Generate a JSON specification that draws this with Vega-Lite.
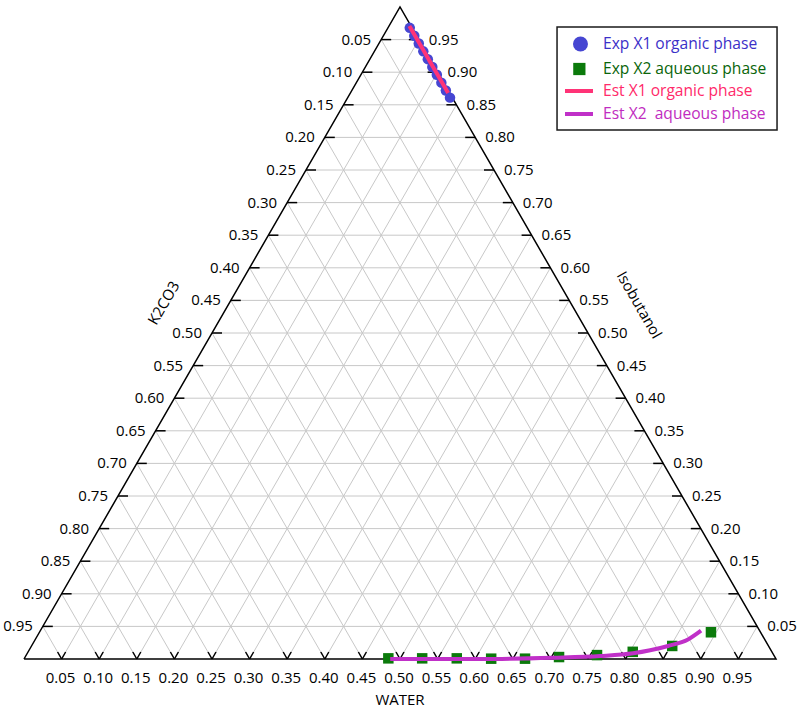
{
  "$schema": "https://vega.github.io/schema/vega-lite/v6.json",
  "width": 752,
  "height": 652,
  "autosize": {"type": "none"},
  "padding": {"left": 24, "top": 7, "right": 24, "bottom": 49},
  "background": "white",
  "config": {"view": {"stroke": null}, "font": "Open Sans"},
  "datasets": {
    "ticks": [
      {"t": 0.05}, {"t": 0.10}, {"t": 0.15}, {"t": 0.20}, {"t": 0.25}, {"t": 0.30}, {"t": 0.35}, {"t": 0.40}, {"t": 0.45}, {"t": 0.50},
      {"t": 0.55}, {"t": 0.60}, {"t": 0.65}, {"t": 0.70}, {"t": 0.75}, {"t": 0.80}, {"t": 0.85}, {"t": 0.90}, {"t": 0.95}
    ],
    "verts": [
      {"W": 0, "I": 0, "o": 0},
      {"W": 1, "I": 0, "o": 1},
      {"W": 0, "I": 1, "o": 2},
      {"W": 0, "I": 0, "o": 3}
    ],
    "titles": [
      {"name": "K2CO3"},
      {"name": "Isobutanol"},
      {"name": "WATER"}
    ],
    "legend": [
      {"series": "Exp X1 organic phase"},
      {"series": "Exp X2 aqueous phase"},
      {"series": "Est X1 organic phase"},
      {"series": "Est X2  aqueous phase"}
    ],
    "exp": [
      {"series": "Exp X1 organic phase", "W": 0.029, "I": 0.968},
      {"series": "Exp X1 organic phase", "W": 0.041, "I": 0.956},
      {"series": "Exp X1 organic phase", "W": 0.053, "I": 0.944},
      {"series": "Exp X1 organic phase", "W": 0.065, "I": 0.932},
      {"series": "Exp X1 organic phase", "W": 0.077, "I": 0.920},
      {"series": "Exp X1 organic phase", "W": 0.089, "I": 0.908},
      {"series": "Exp X1 organic phase", "W": 0.101, "I": 0.896},
      {"series": "Exp X1 organic phase", "W": 0.113, "I": 0.884},
      {"series": "Exp X1 organic phase", "W": 0.125, "I": 0.872},
      {"series": "Exp X1 organic phase", "W": 0.136, "I": 0.861},
      {"series": "Exp X2 aqueous phase", "W": 0.484, "I": 0.001},
      {"series": "Exp X2 aqueous phase", "W": 0.529, "I": 0.001},
      {"series": "Exp X2 aqueous phase", "W": 0.575, "I": 0.001},
      {"series": "Exp X2 aqueous phase", "W": 0.621, "I": 0.0005},
      {"series": "Exp X2 aqueous phase", "W": 0.666, "I": 0.0005},
      {"series": "Exp X2 aqueous phase", "W": 0.710, "I": 0.003},
      {"series": "Exp X2 aqueous phase", "W": 0.759, "I": 0.006},
      {"series": "Exp X2 aqueous phase", "W": 0.804, "I": 0.011},
      {"series": "Exp X2 aqueous phase", "W": 0.852, "I": 0.020},
      {"series": "Exp X2 aqueous phase", "W": 0.893, "I": 0.041}
    ],
    "est": [
      {"series": "Est X1 organic phase", "W": 0.027, "I": 0.971},
      {"series": "Est X1 organic phase", "W": 0.130, "I": 0.868},
      {"series": "Est X2  aqueous phase", "W": 0.487, "I": 0.0},
      {"series": "Est X2  aqueous phase", "W": 0.606, "I": 0.0},
      {"series": "Est X2  aqueous phase", "W": 0.7025, "I": 0.002},
      {"series": "Est X2  aqueous phase", "W": 0.764, "I": 0.0046},
      {"series": "Est X2  aqueous phase", "W": 0.8055, "I": 0.0087},
      {"series": "Est X2  aqueous phase", "W": 0.826, "I": 0.0133},
      {"series": "Est X2  aqueous phase", "W": 0.8464, "I": 0.020},
      {"series": "Est X2  aqueous phase", "W": 0.868, "I": 0.030},
      {"series": "Est X2  aqueous phase", "W": 0.8786, "I": 0.0434}
    ]
  },
  "layer": [
    {
      "data": {"name": "ticks"},
      "transform": [
        {"calculate": "datum.t / 2", "as": "xa"},
        {"calculate": "1 - datum.t / 2", "as": "xb"}
      ],
      "mark": {"type": "rule", "color": "#c8c8c8", "strokeWidth": 1},
      "encoding": {
        "x": {"field": "xa", "type": "quantitative", "scale": {"domain": [0, 1], "nice": false, "zero": false}, "axis": null},
        "x2": {"field": "xb"},
        "y": {"field": "t", "type": "quantitative", "scale": {"domain": [0, 1], "nice": false, "zero": false}, "axis": null},
        "y2": {"field": "t"}
      }
    },
    {
      "data": {"name": "ticks"},
      "transform": [
        {"calculate": "(1 + datum.t) / 2", "as": "xb"},
        {"calculate": "1 - datum.t", "as": "yb"},
        {"calculate": "0", "as": "y0"}
      ],
      "mark": {"type": "rule", "color": "#c8c8c8", "strokeWidth": 1},
      "encoding": {
        "x": {"field": "t", "type": "quantitative", "axis": null},
        "x2": {"field": "xb"},
        "y": {"field": "y0", "type": "quantitative", "axis": null},
        "y2": {"field": "yb"}
      }
    },
    {
      "data": {"name": "ticks"},
      "transform": [
        {"calculate": "1 - datum.t", "as": "xa"},
        {"calculate": "(1 - datum.t) / 2", "as": "xb"},
        {"calculate": "1 - datum.t", "as": "yb"},
        {"calculate": "0", "as": "y0"}
      ],
      "mark": {"type": "rule", "color": "#c8c8c8", "strokeWidth": 1},
      "encoding": {
        "x": {"field": "xa", "type": "quantitative", "axis": null},
        "x2": {"field": "xb"},
        "y": {"field": "y0", "type": "quantitative", "axis": null},
        "y2": {"field": "yb"}
      }
    },
    {
      "data": {"name": "verts"},
      "transform": [{"calculate": "datum.W + datum.I / 2", "as": "X"}],
      "mark": {"type": "line", "color": "#000000", "strokeWidth": 1.5, "strokeJoin": "miter"},
      "encoding": {
        "x": {"field": "X", "type": "quantitative", "axis": null},
        "y": {"field": "I", "type": "quantitative", "axis": null},
        "order": {"field": "o", "type": "quantitative"}
      }
    },
    {
      "data": {"name": "ticks"},
      "transform": [{"calculate": "datum.t / 2", "as": "xa"}],
      "mark": {"type": "rule", "color": "#000000", "strokeWidth": 1.5, "x2Offset": 10},
      "encoding": {
        "x": {"field": "xa", "type": "quantitative", "axis": null},
        "x2": {"field": "xa"},
        "y": {"field": "t", "type": "quantitative", "axis": null},
        "y2": {"field": "t"}
      }
    },
    {
      "data": {"name": "ticks"},
      "transform": [{"calculate": "1 - datum.t / 2", "as": "xa"}],
      "mark": {"type": "rule", "color": "#000000", "strokeWidth": 1.5, "x2Offset": -10},
      "encoding": {
        "x": {"field": "xa", "type": "quantitative", "axis": null},
        "x2": {"field": "xa"},
        "y": {"field": "t", "type": "quantitative", "axis": null},
        "y2": {"field": "t"}
      }
    },
    {
      "data": {"name": "ticks"},
      "transform": [{"calculate": "0", "as": "y0"}],
      "mark": {"type": "rule", "color": "#000000", "strokeWidth": 1.5, "x2Offset": 4, "y2Offset": -7},
      "encoding": {
        "x": {"field": "t", "type": "quantitative", "axis": null},
        "x2": {"field": "t"},
        "y": {"field": "y0", "type": "quantitative", "axis": null},
        "y2": {"field": "y0"}
      }
    },
    {
      "data": {"name": "ticks"},
      "transform": [{"calculate": "0", "as": "y0"}],
      "mark": {"type": "rule", "color": "#000000", "strokeWidth": 1.5, "x2Offset": -4, "y2Offset": -7},
      "encoding": {
        "x": {"field": "t", "type": "quantitative", "axis": null},
        "x2": {"field": "t"},
        "y": {"field": "y0", "type": "quantitative", "axis": null},
        "y2": {"field": "y0"}
      }
    },
    {
      "data": {"name": "ticks"},
      "transform": [
        {"calculate": "datum.t / 2", "as": "xa"},
        {"calculate": "format(1 - datum.t, '.2f')", "as": "lab"}
      ],
      "mark": {"type": "text", "align": "right", "baseline": "middle", "dx": -10, "fontSize": 15, "font": "Open Sans", "color": "#000000"},
      "encoding": {
        "x": {"field": "xa", "type": "quantitative", "axis": null},
        "y": {"field": "t", "type": "quantitative", "axis": null},
        "text": {"field": "lab"}
      }
    },
    {
      "data": {"name": "ticks"},
      "transform": [
        {"calculate": "1 - datum.t / 2", "as": "xa"},
        {"calculate": "format(datum.t, '.2f')", "as": "lab"}
      ],
      "mark": {"type": "text", "align": "left", "baseline": "middle", "dx": 10, "fontSize": 15, "font": "Open Sans", "color": "#000000"},
      "encoding": {
        "x": {"field": "xa", "type": "quantitative", "axis": null},
        "y": {"field": "t", "type": "quantitative", "axis": null},
        "text": {"field": "lab"}
      }
    },
    {
      "data": {"name": "ticks"},
      "transform": [
        {"calculate": "format(datum.t, '.2f')", "as": "lab"},
        {"calculate": "0", "as": "y0"}
      ],
      "mark": {"type": "text", "align": "center", "baseline": "middle", "dy": 19, "dx": -1, "fontSize": 15, "font": "Open Sans", "color": "#000000"},
      "encoding": {
        "x": {"field": "t", "type": "quantitative", "axis": null},
        "y": {"field": "y0", "type": "quantitative", "axis": null},
        "text": {"field": "lab"}
      }
    },
    {
      "data": {"name": "titles"},
      "transform": [{"filter": "datum.name == 'K2CO3'"}],
      "mark": {"type": "text", "align": "center", "baseline": "middle", "angle": 300, "fontSize": 15, "font": "Open Sans", "color": "#000000"},
      "encoding": {
        "x": {"datum": 0.186, "type": "quantitative", "axis": null},
        "y": {"datum": 0.546, "type": "quantitative", "axis": null},
        "text": {"field": "name"}
      }
    },
    {
      "data": {"name": "titles"},
      "transform": [{"filter": "datum.name == 'Isobutanol'"}],
      "mark": {"type": "text", "align": "center", "baseline": "middle", "angle": 60, "fontSize": 15, "font": "Open Sans", "color": "#000000"},
      "encoding": {
        "x": {"datum": 0.818, "type": "quantitative", "axis": null},
        "y": {"datum": 0.543, "type": "quantitative", "axis": null},
        "text": {"field": "name"}
      }
    },
    {
      "data": {"name": "titles"},
      "transform": [{"filter": "datum.name == 'WATER'"}],
      "mark": {"type": "text", "align": "center", "baseline": "middle", "fontSize": 15, "font": "Open Sans", "color": "#000000"},
      "encoding": {
        "x": {"datum": 0.5, "type": "quantitative", "axis": null},
        "y": {"datum": -0.063, "type": "quantitative", "axis": null},
        "text": {"field": "name"}
      }
    },
    {
      "data": {"name": "exp"},
      "transform": [{"calculate": "datum.W + datum.I / 2", "as": "X"}],
      "mark": {"type": "point", "filled": true, "size": 110, "opacity": 1},
      "encoding": {
        "x": {"field": "X", "type": "quantitative", "axis": null},
        "y": {"field": "I", "type": "quantitative", "axis": null},
        "color": {
          "field": "series", "type": "nominal",
          "scale": {
            "domain": ["Exp X1 organic phase", "Exp X2 aqueous phase", "Est X1 organic phase", "Est X2  aqueous phase"],
            "range": ["#4646d2", "#0b7a0b", "#ff3377", "#c030c8"]
          },
          "legend": null
        },
        "shape": {
          "field": "series", "type": "nominal",
          "scale": {
            "domain": ["Exp X1 organic phase", "Exp X2 aqueous phase"],
            "range": ["circle", "square"]
          },
          "legend": null
        }
      }
    },
    {
      "data": {"name": "est"},
      "transform": [{"calculate": "datum.W + datum.I / 2", "as": "X"}],
      "mark": {"type": "line", "strokeWidth": 4, "interpolate": "monotone"},
      "encoding": {
        "x": {"field": "X", "type": "quantitative", "axis": null},
        "y": {"field": "I", "type": "quantitative", "axis": null},
        "color": {"field": "series", "type": "nominal", "legend": null}
      }
    },
    {
      "data": {"name": "legend"},
      "transform": [{"filter": "datum.series == 'Exp X1 organic phase'"}],
      "mark": {"type": "point", "shape": "M-1,-0.468H1V0.468H-1Z", "size": 48400, "filled": false, "fill": "#ffffff", "fillOpacity": 1, "stroke": "#1a1a1a", "strokeWidth": 1.5, "opacity": 1},
      "encoding": {
        "x": {"datum": 0.8551, "type": "quantitative", "axis": null},
        "y": {"datum": 0.8903, "type": "quantitative", "axis": null}
      }
    },
    {
      "data": {"name": "legend"},
      "transform": [{"filter": "datum.series == 'Exp X1 organic phase'"}],
      "mark": {"type": "point", "shape": "circle", "size": 225, "filled": true, "opacity": 1},
      "encoding": {
        "x": {"datum": 0.740, "type": "quantitative", "axis": null},
        "y": {"datum": 0.9433, "type": "quantitative", "axis": null},
        "color": {"field": "series", "type": "nominal", "legend": null}
      }
    },
    {
      "data": {"name": "legend"},
      "transform": [{"filter": "datum.series == 'Exp X2 aqueous phase'"}],
      "mark": {"type": "point", "shape": "square", "size": 150, "filled": true, "opacity": 1},
      "encoding": {
        "x": {"datum": 0.7385, "type": "quantitative", "axis": null},
        "y": {"datum": 0.9049, "type": "quantitative", "axis": null},
        "color": {"field": "series", "type": "nominal", "legend": null}
      }
    },
    {
      "data": {"name": "legend"},
      "transform": [{"filter": "datum.series == 'Est X1 organic phase'"}],
      "mark": {"type": "point", "shape": "stroke", "size": 784, "filled": false, "strokeWidth": 4, "opacity": 1},
      "encoding": {
        "x": {"datum": 0.738, "type": "quantitative", "axis": null},
        "y": {"datum": 0.8712, "type": "quantitative", "axis": null},
        "color": {"field": "series", "type": "nominal", "legend": null}
      }
    },
    {
      "data": {"name": "legend"},
      "transform": [{"filter": "datum.series == 'Est X2  aqueous phase'"}],
      "mark": {"type": "point", "shape": "stroke", "size": 784, "filled": false, "strokeWidth": 4, "opacity": 1},
      "encoding": {
        "x": {"datum": 0.738, "type": "quantitative", "axis": null},
        "y": {"datum": 0.8359, "type": "quantitative", "axis": null},
        "color": {"field": "series", "type": "nominal", "legend": null}
      }
    },
    {
      "data": {"name": "legend"},
      "transform": [{"filter": "datum.series == 'Exp X1 organic phase'"}],
      "mark": {"type": "text", "align": "left", "baseline": "middle", "fontSize": 15.6, "font": "Open Sans", "color": "#3b30c8"},
      "encoding": {
        "x": {"datum": 0.7699, "type": "quantitative", "axis": null},
        "y": {"datum": 0.9433, "type": "quantitative", "axis": null},
        "text": {"field": "series"}
      }
    },
    {
      "data": {"name": "legend"},
      "transform": [{"filter": "datum.series == 'Exp X2 aqueous phase'"}],
      "mark": {"type": "text", "align": "left", "baseline": "middle", "fontSize": 15.6, "font": "Open Sans", "color": "#0a650a"},
      "encoding": {
        "x": {"datum": 0.7699, "type": "quantitative", "axis": null},
        "y": {"datum": 0.9049, "type": "quantitative", "axis": null},
        "text": {"field": "series"}
      }
    },
    {
      "data": {"name": "legend"},
      "transform": [{"filter": "datum.series == 'Est X1 organic phase'"}],
      "mark": {"type": "text", "align": "left", "baseline": "middle", "fontSize": 15.6, "font": "Open Sans", "color": "#ff2a6a"},
      "encoding": {
        "x": {"datum": 0.7699, "type": "quantitative", "axis": null},
        "y": {"datum": 0.8712, "type": "quantitative", "axis": null},
        "text": {"field": "series"}
      }
    },
    {
      "data": {"name": "legend"},
      "transform": [
        {"filter": "datum.series == 'Est X2  aqueous phase'"},
        {"calculate": "replace(datum.series, '  ', ' \u00a0')", "as": "shown"}
      ],
      "mark": {"type": "text", "align": "left", "baseline": "middle", "fontSize": 15.6, "font": "Open Sans", "color": "#c02cc0"},
      "encoding": {
        "x": {"datum": 0.7699, "type": "quantitative", "axis": null},
        "y": {"datum": 0.8359, "type": "quantitative", "axis": null},
        "text": {"field": "shown"}
      }
    }
  ],
  "resolve": {"scale": {"x": "shared", "y": "shared"}}
}
